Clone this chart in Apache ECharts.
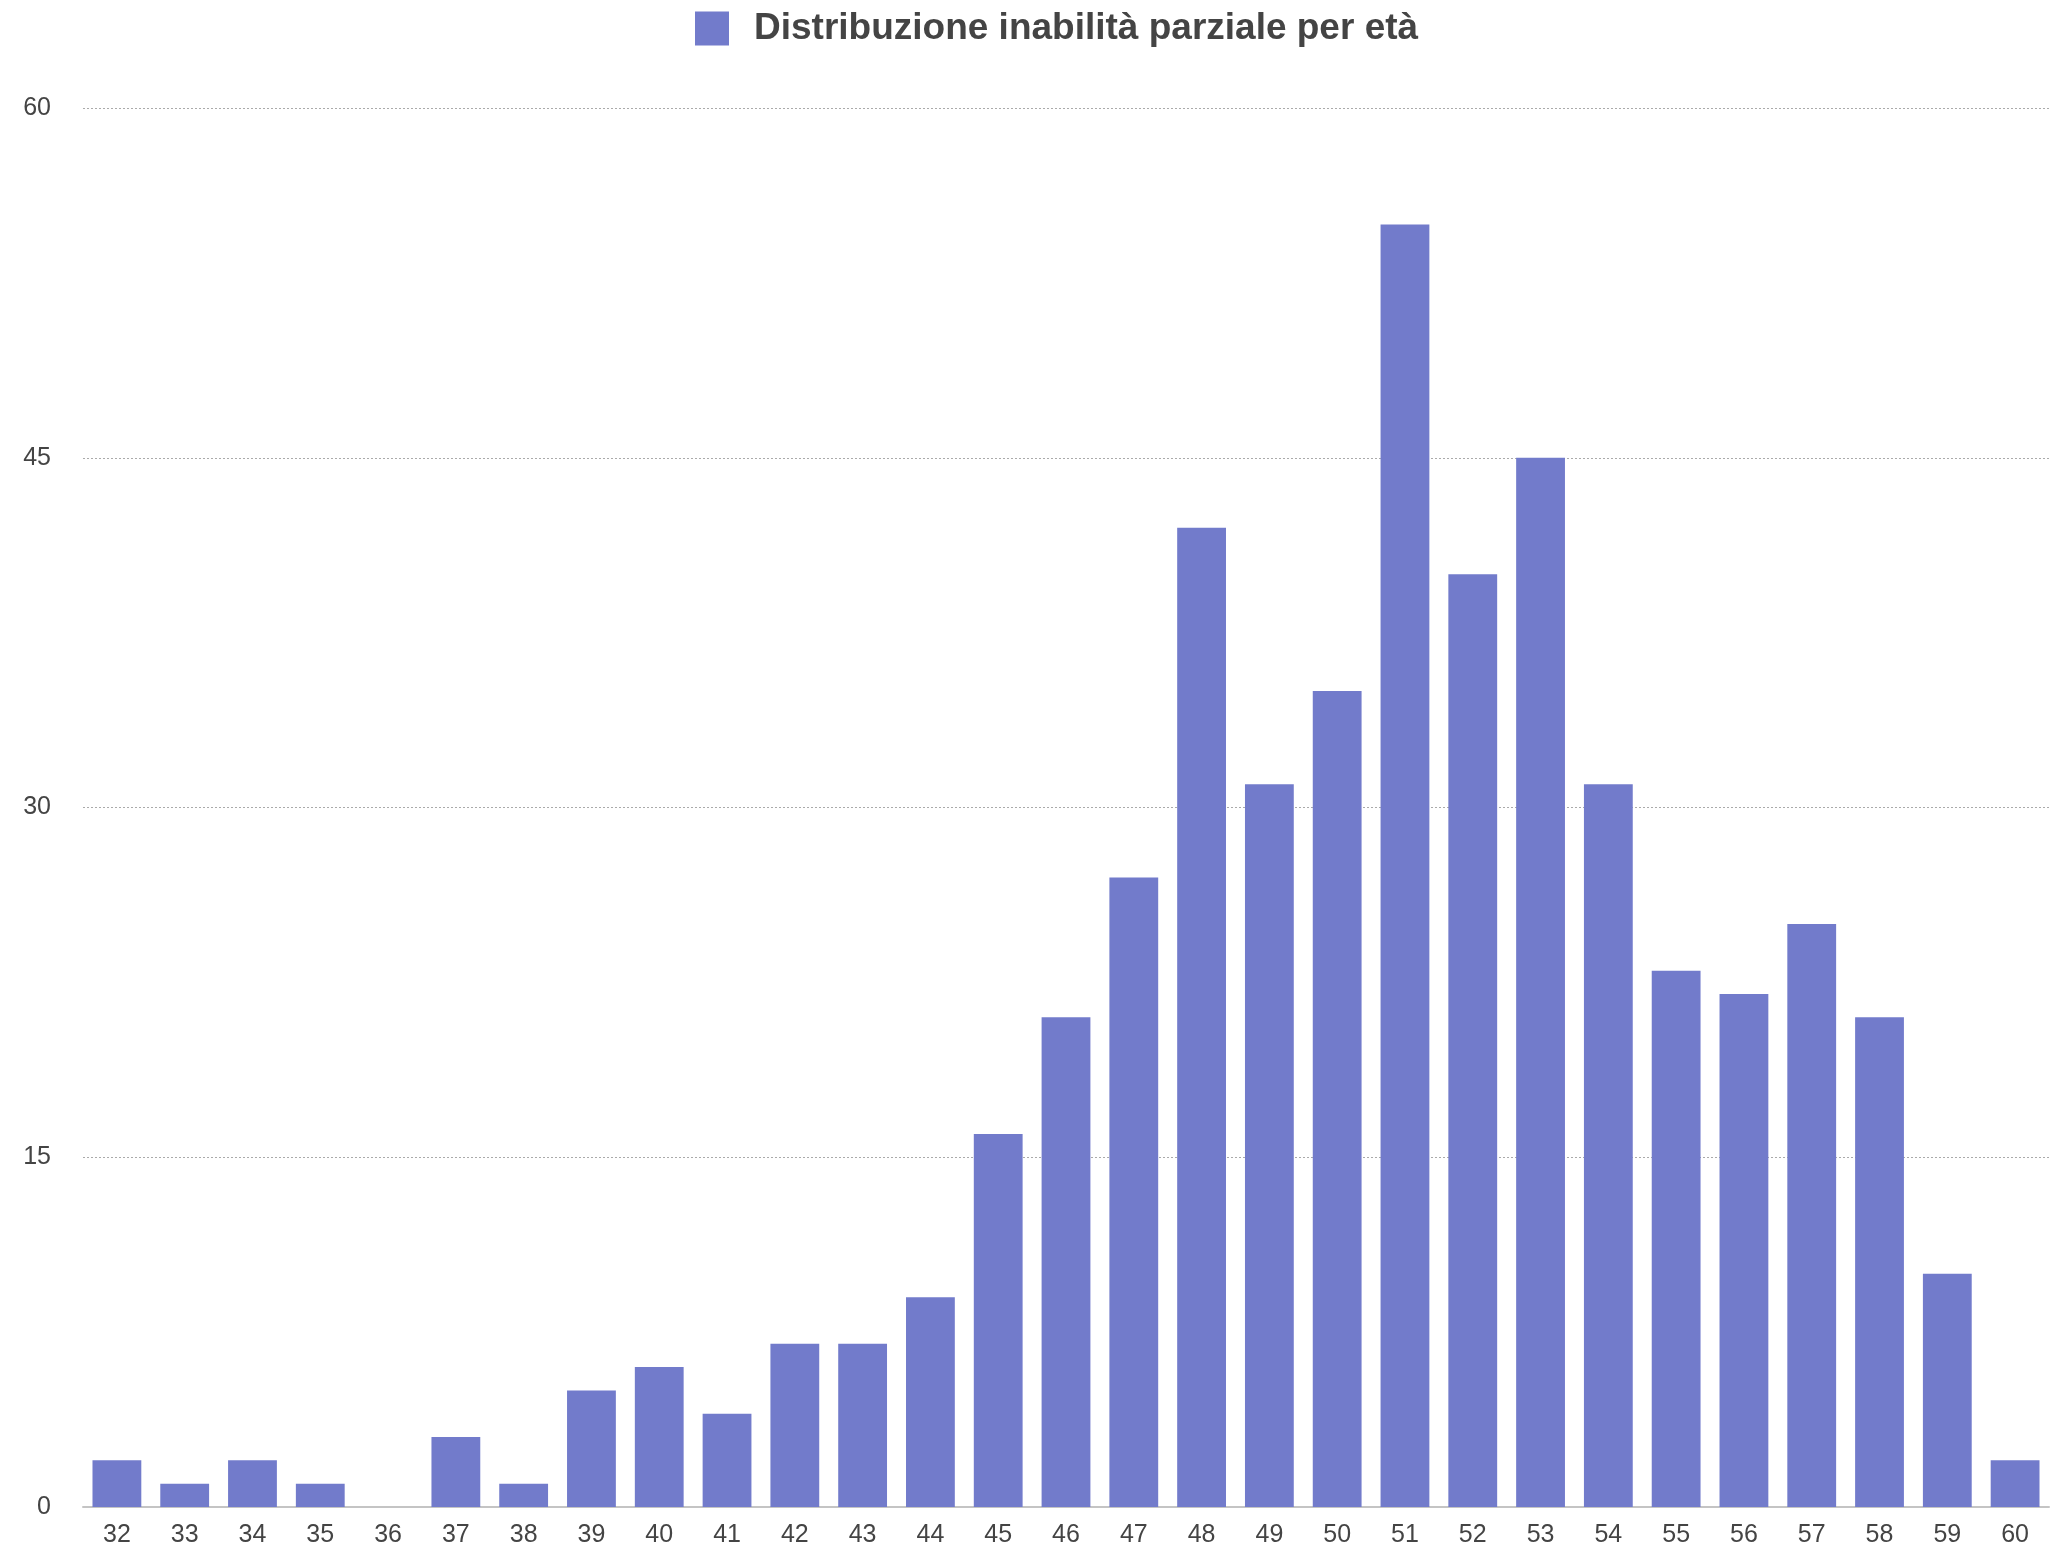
<!DOCTYPE html>
<html><head><meta charset="utf-8">
<script src="https://cdn.jsdelivr.net/npm/echarts@6/dist/echarts.min.js"></script>
<style>html,body{margin:0;padding:0;background:#fff}#c{width:2067px;height:1552px}</style>
</head><body><div id="c"></div>
<script>
const seriesName = 'Distribuzione inabilità parziale per età';
const ages = ['32','33','34','35','36','37','38','39','40','41','42','43','44','45','46','47','48','49','50','51','52','53','54','55','56','57','58','59','60'];
const counts = [2,1,2,1,0,3,1,5,6,4,7,7,9,16,21,27,42,31,35,55,40,45,31,23,22,25,21,10,2];
const yTicks = [0,15,30,45,60];

const chart = echarts.init(document.getElementById('c'));
chart.setOption({
  animation: false,
  backgroundColor: '#fff',
  legend: {
    top: 10, left: 695, padding: 0,
    itemWidth: 34, itemHeight: 34,
    icon: 'rect',
    textStyle: {fontFamily: 'Liberation Sans', fontWeight: 'bold', fontSize: 37, color: '#444', padding: [0,0,0,20]},
    data: [seriesName]
  },
  grid: {left: 83, right: 18, top: 108, bottom: 45, containLabel: false},
  xAxis: {
    type: 'category', data: ages,
    axisLine: {lineStyle: {color: '#c4c4c4', width: 2}},
    axisTick: {show: false},
    axisLabel: {fontFamily: 'Liberation Sans', fontSize: 25, color: '#444', margin: 16}
  },
  yAxis: {
    type: 'value', min: yTicks[0], max: yTicks[yTicks.length-1], interval: 15,
    axisLine: {show: false}, axisTick: {show: false},
    axisLabel: {fontFamily: 'Liberation Sans', fontSize: 25, color: '#444', margin: 32},
    splitLine: {lineStyle: {color: '#aaa', type: [2,2], width: 1}}
  },
  series: [{
    name: seriesName, type: 'bar', data: counts,
    barCategoryGap: '28%',
    itemStyle: {color: '#727bcb'}
  }]
});
</script></body></html>
